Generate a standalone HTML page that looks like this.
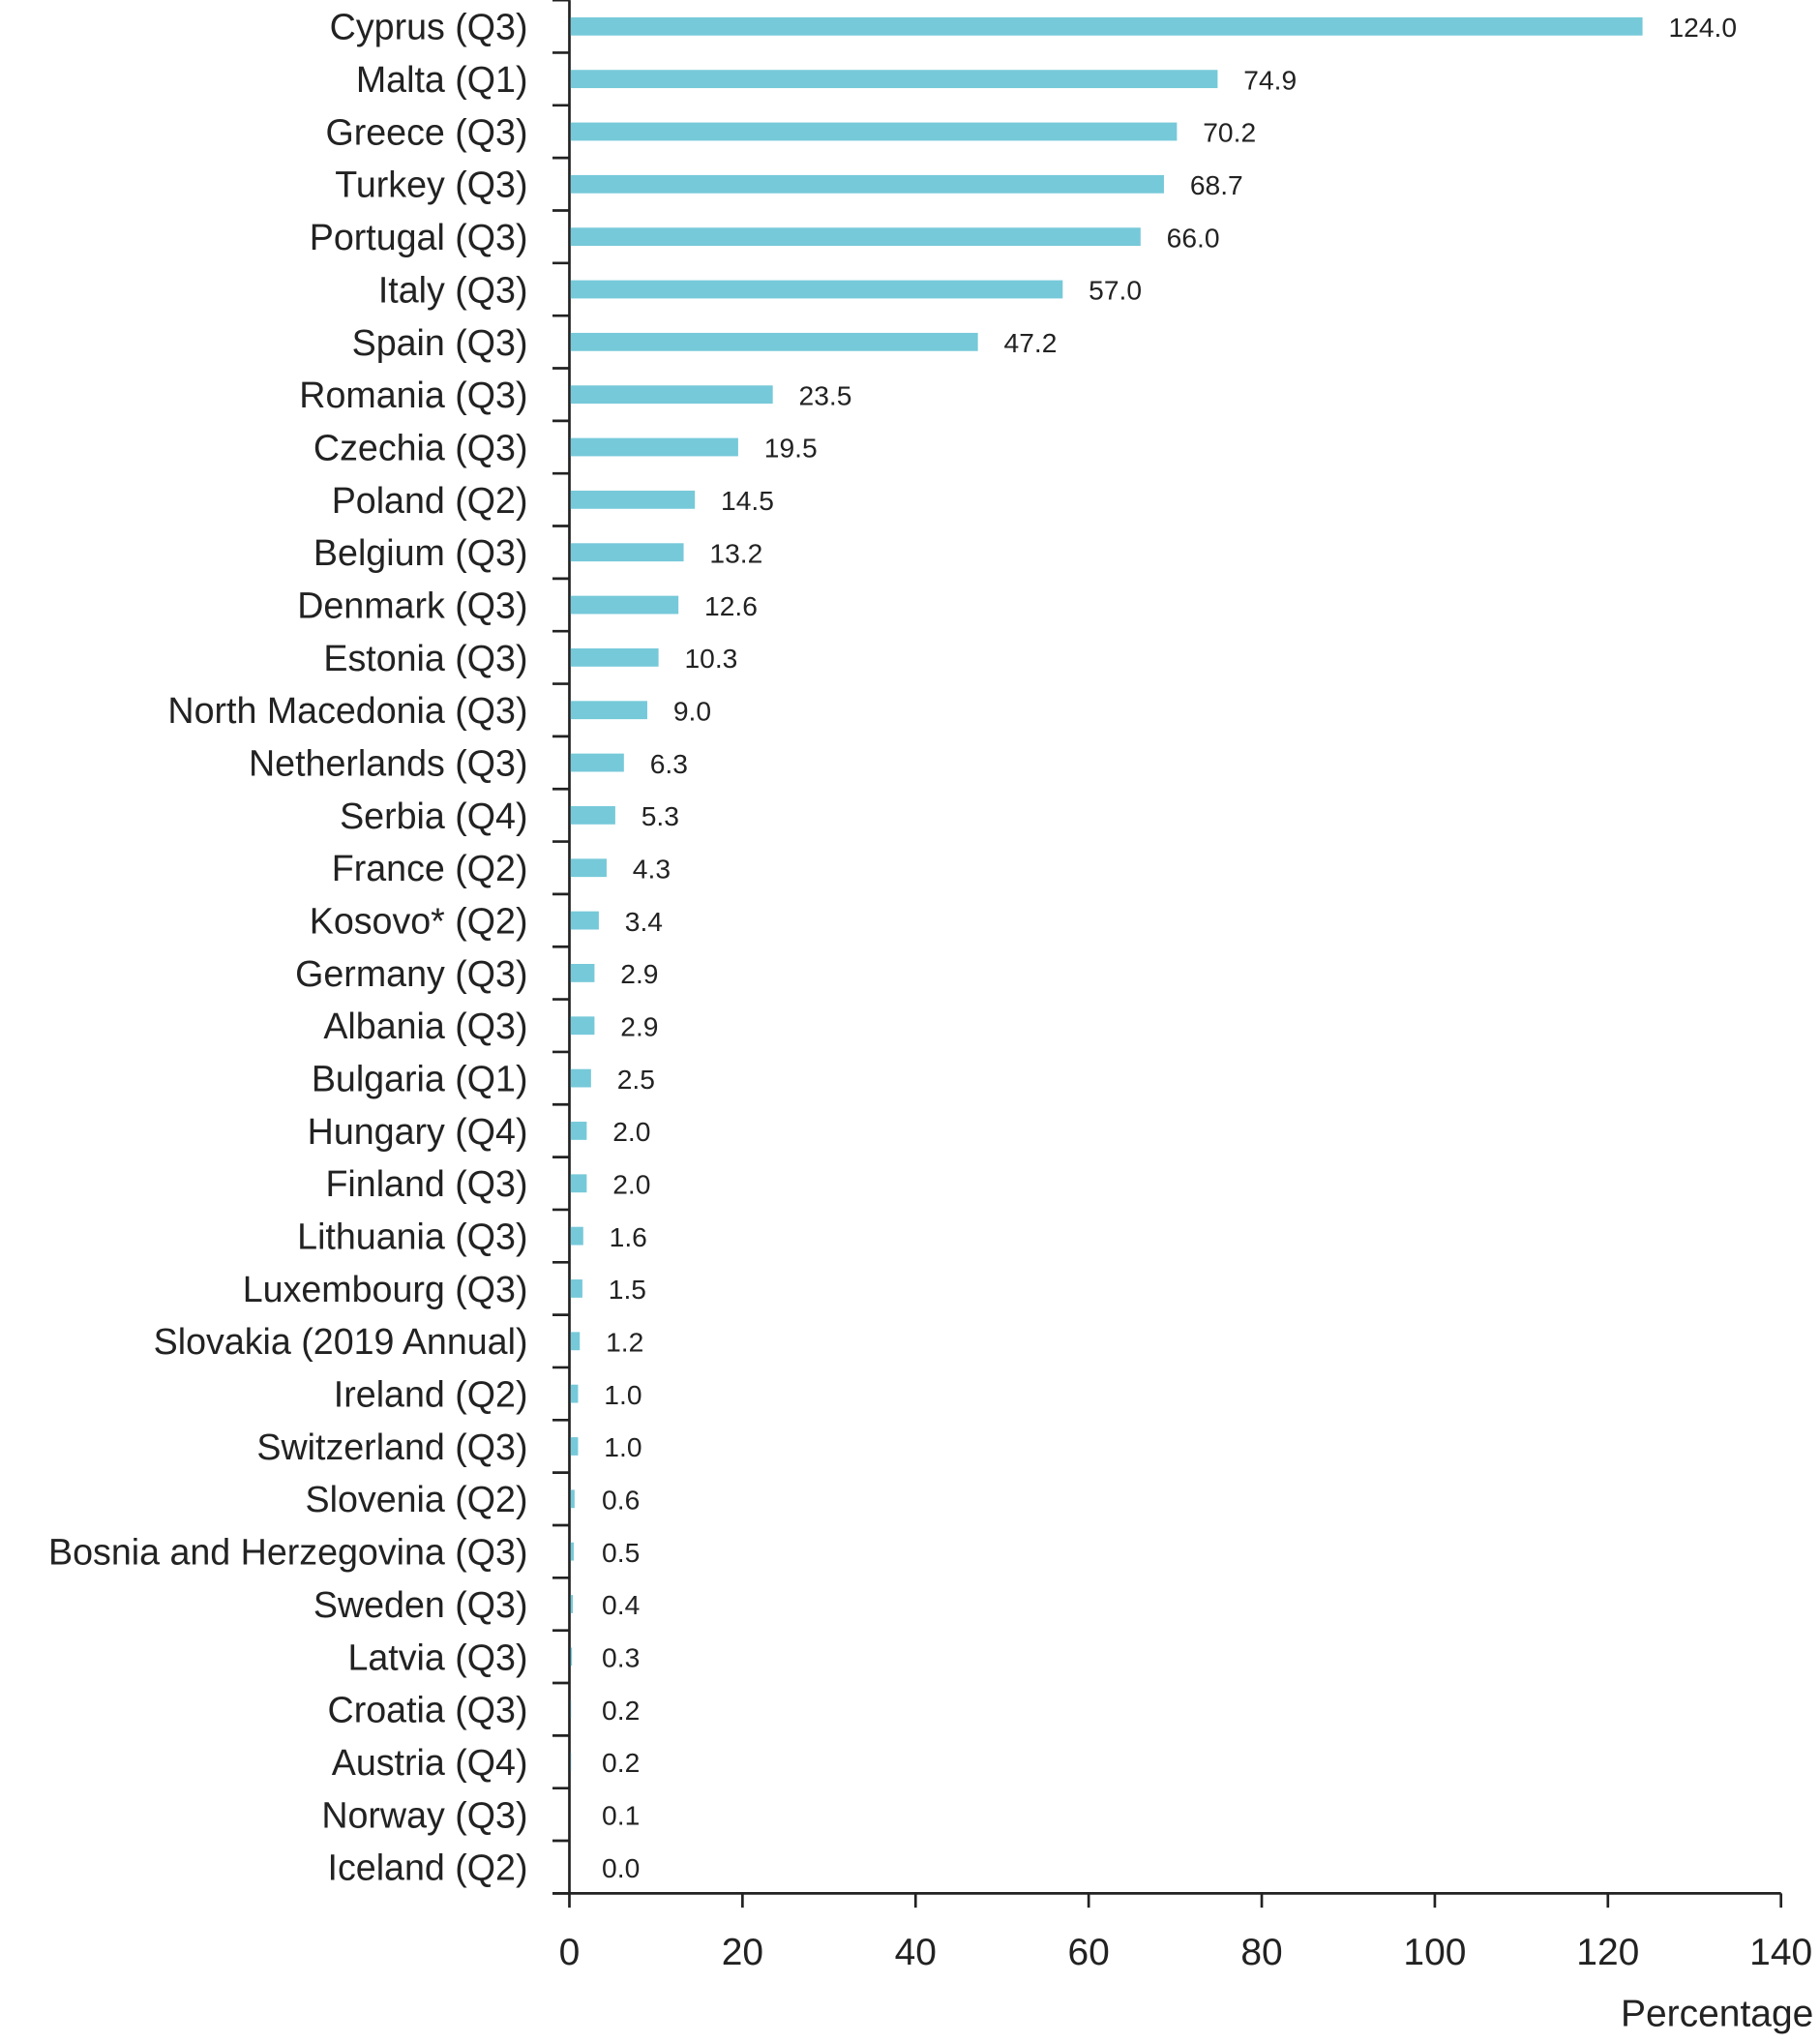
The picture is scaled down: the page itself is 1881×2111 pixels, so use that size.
<!DOCTYPE html>
<html><head><meta charset="utf-8"><style>
html,body{margin:0;padding:0;background:#fff;}
svg{display:block;font-family:"Liberation Sans",sans-serif;}
</style></head><body>
<svg id="chart" width="1881" height="2111" viewBox="0 0 1400 1571" xmlns="http://www.w3.org/2000/svg">
<g id="axes"></g><g id="bars"></g>
<text x="1395" y="1558" text-anchor="end" font-size="29" fill="#222">Percentage</text>
</svg>
<script>
const categories=["Cyprus (Q3)","Malta (Q1)","Greece (Q3)","Turkey (Q3)","Portugal (Q3)","Italy (Q3)","Spain (Q3)","Romania (Q3)","Czechia (Q3)","Poland (Q2)","Belgium (Q3)","Denmark (Q3)","Estonia (Q3)","North Macedonia (Q3)","Netherlands (Q3)","Serbia (Q4)","France (Q2)","Kosovo* (Q2)","Germany (Q3)","Albania (Q3)","Bulgaria (Q1)","Hungary (Q4)","Finland (Q3)","Lithuania (Q3)","Luxembourg (Q3)","Slovakia (2019 Annual)","Ireland (Q2)","Switzerland (Q3)","Slovenia (Q2)","Bosnia and Herzegovina (Q3)","Sweden (Q3)","Latvia (Q3)","Croatia (Q3)","Austria (Q4)","Norway (Q3)","Iceland (Q2)"];
const values=[124.0,74.9,70.2,68.7,66.0,57.0,47.2,23.5,19.5,14.5,13.2,12.6,10.3,9.0,6.3,5.3,4.3,3.4,2.9,2.9,2.5,2.0,2.0,1.6,1.5,1.2,1.0,1.0,0.6,0.5,0.4,0.3,0.2,0.2,0.1,0.0];
const xTicks=[0,20,40,60,80,100,120,140];
const NS="http://www.w3.org/2000/svg";
const x0=438,x1=1370,xMax=140,yTop=0,yBottom=1456;
const xs=v=>x0+(v/xMax)*(x1-x0);
const step=(yBottom-yTop)/categories.length;
const yc=i=>yTop+step*(i+0.5);
function mk(tag,attrs,parent){const e=document.createElementNS(NS,tag);for(const k in attrs)e.setAttribute(k,attrs[k]);parent.appendChild(e);return e;}
const axes=document.getElementById('axes'),bars=document.getElementById('bars');
let l=mk('line',{x1:x0,y1:yTop,x2:x0,y2:yBottom,stroke:'#222','stroke-width':2},axes);


l=mk('line',{x1:425,y1:yBottom,x2:x1,y2:yBottom,stroke:'#222','stroke-width':2},axes);


for(let i=0;i<=categories.length;i++){
  const t=mk('line',{x1:425,y1:yTop+step*i,x2:x0,y2:yTop+step*i,stroke:'#222','stroke-width':2},axes);
  
  
}
xTicks.forEach(v=>{
  const t=mk('line',{x1:xs(v),y1:yBottom,x2:xs(v),y2:yBottom+11,stroke:'#222','stroke-width':2},axes);
  
  
  const tx=mk('text',{x:xs(v),y:1511,'text-anchor':'middle','font-size':29,fill:'#222'},axes);
  tx.textContent=v;
  
  
});
categories.forEach((c,i)=>{
  const y=yc(i);
  const lab=mk('text',{x:406,y:y+10,'text-anchor':'end','font-size':28,fill:'#222'},bars);
  lab.textContent=c;
  
  
  const b=mk('rect',{x:x0+1,y:y-7,width:Math.max(0,xs(values[i])-x0-1),height:14,fill:'#76c9d9'},bars);
  
  
  const vx=Math.max(xs(values[i]),x0+5)+20;
  const vl=mk('text',{x:vx,y:y+8,'font-size':21,fill:'#222'},bars);
  vl.textContent=values[i].toFixed(1);
  
  
});
</script>
</body></html>
